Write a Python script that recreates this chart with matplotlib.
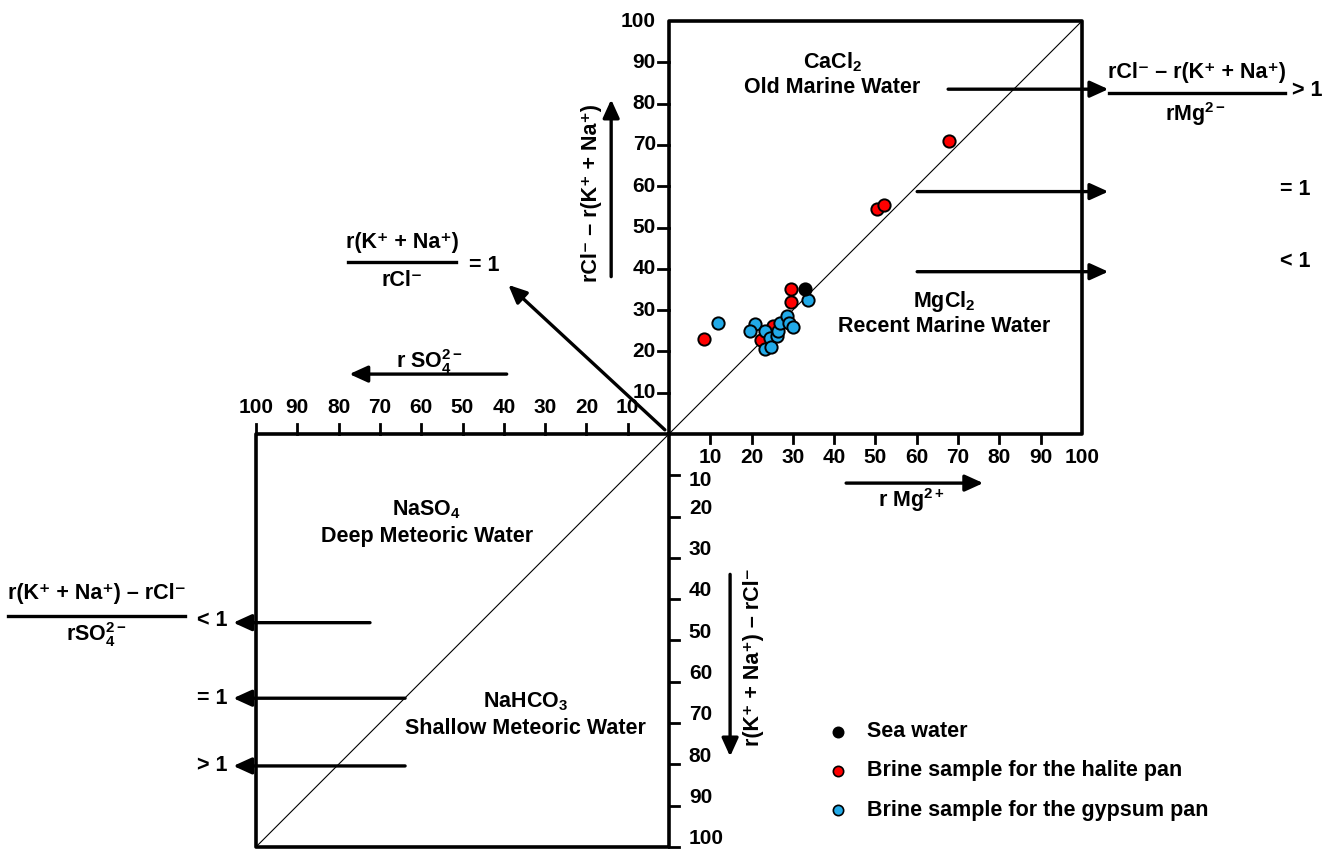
import matplotlib
matplotlib.use("Agg")
import matplotlib.pyplot as plt

plt.rcParams['font.family'] = ['Liberation Sans', 'DejaVu Sans']
plt.rcParams['font.weight'] = 'bold'
plt.rcParams['mathtext.fontset'] = 'custom'
plt.rcParams['mathtext.rm'] = 'Liberation Sans:bold'
plt.rcParams['mathtext.bf'] = 'Liberation Sans:bold'
plt.rcParams['mathtext.it'] = 'Liberation Sans:bold'
plt.rcParams['mathtext.default'] = 'bf'

# data (x = r Mg2+, y = rCl- - r(K+ + Na+))
sea_x = [32.9]
sea_y = [35.1]

halite_x = [67.9, 50.3, 52.0, 29.5, 29.5, 8.5, 22.3, 25.3]
halite_y = [70.9, 54.6, 55.5, 35.1, 32.0, 23.0, 22.8, 26.2]

gypsum_x = [11.8, 20.8, 19.7, 23.3, 24.5, 23.2, 24.6, 26.2, 26.3, 27.0, 28.7, 29.0, 30.1, 33.7]
gypsum_y = [26.9, 26.7, 24.9, 24.9, 23.2, 20.5, 21.1, 23.7, 24.9, 26.9, 28.6, 26.8, 26.0, 32.5]

ticks = [10, 20, 30, 40, 50, 60, 70, 80, 90, 100]
tick_labels = [str(t) for t in ticks]

legend_labels = ["Sea water", "Brine sample for the halite pan", "Brine sample for the gypsum pan"]
legend_colors = ["black", "#ff0000", "#22aae8"]

fig = plt.figure(figsize=(13.33, 8.51), dpi=100)
ax = fig.add_axes([0, 0, 1, 1])
ax.set_xlim(-162, 160.8)
ax.set_ylim(-101, 105.1)
ax.axis('off')

blw = 2.6
# upper-right box
ax.plot([0, 100, 100, 0, 0], [0, 0, 100, 100, 0], color='black', lw=blw, solid_capstyle='projecting')
# lower-left box
ax.plot([0, -100, -100, 0, 0], [0, 0, -100, -100, 0], color='black', lw=blw, solid_capstyle='projecting')
# 1:1 diagonal
ax.plot([-100, 100], [-100, 100], color='black', lw=0.8)

tfs = 15
tlw = 2.0
for t, lab in zip(ticks, tick_labels):
    # upper box, left axis
    if t < 100:
        ax.plot([-2.7, 0], [t, t], color='black', lw=tlw)
    ax.text(-3.2, t, lab, ha='right', va='center', fontsize=tfs)
    # upper box, bottom axis
    if t < 100:
        ax.plot([t, t], [0, -2.2], color='black', lw=tlw)
    ax.text(t, -5.6, lab, ha='center', va='center', fontsize=tfs)
    # lower box, top axis
    ax.plot([-t, -t], [0, 2.3], color='black', lw=tlw)
    ax.text(-t, 6.3, lab, ha='center', va='center', fontsize=tfs)
    # lower box, right axis
    ax.plot([0, 2.5], [-t, -t], color='black', lw=tlw)
    dy = -1.2 if t == 10 else 2.0
    ax.text(4.8, -t + dy, lab, ha='left', va='center', fontsize=tfs)

# samples
ax.scatter(halite_x, halite_y, s=78, c='#ff0000', edgecolors='black', linewidths=1.4, zorder=3)
ax.scatter(gypsum_x, gypsum_y, s=78, c='#22aae8', edgecolors='black', linewidths=1.4, zorder=4)
ax.scatter(sea_x, sea_y, s=78, c='black', edgecolors='black', linewidths=1.4, zorder=4)


def arrow(x0, y0, x1, y1):
    ax.annotate('', xy=(x1, y1), xytext=(x0, y0),
                arrowprops=dict(arrowstyle='-|>,head_length=0.55,head_width=0.25',
                                lw=2.4, color='black', shrinkA=0, shrinkB=0,
                                mutation_scale=20))


fs = 15.5
cl_minus_kna = 'rCl⁻ – r(K⁺ + Na⁺)'
kna_minus_cl = 'r(K⁺ + Na⁺) – rCl⁻'

# region names
ax.text(39.6, 90.1, r'CaCl$_2$', ha='center', va='center', fontsize=fs)
ax.text(39.6, 83.9, 'Old Marine Water', ha='center', va='center', fontsize=fs)
ax.text(66.7, 32.0, r'MgCl$_2$', ha='center', va='center', fontsize=fs)
ax.text(66.7, 26.0, 'Recent Marine Water', ha='center', va='center', fontsize=fs)
ax.text(-58.6, -18.4, r'NaSO$_4$', ha='center', va='center', fontsize=fs)
ax.text(-58.6, -24.9, 'Deep Meteoric Water', ha='center', va='center', fontsize=fs)
ax.text(-34.7, -64.8, r'NaHCO$_3$', ha='center', va='center', fontsize=fs)
ax.text(-34.7, -71.3, 'Shallow Meteoric Water', ha='center', va='center', fontsize=fs)

# axis names with arrows
ax.text(-18.7, 58.3, cl_minus_kna, rotation=90, ha='center', va='center', fontsize=fs)
arrow(-14.0, 38.1, -14.0, 81.0)
ax.text(20.4, -53.9, kna_minus_cl, rotation=90, ha='center', va='center', fontsize=fs)
arrow(14.8, -34.0, 14.8, -78.1)
ax.text(58.8, -16.0, r'r Mg$^{2+}$', ha='center', va='center', fontsize=fs)
arrow(42.9, -11.9, 76.1, -11.9)
ax.text(-57.9, 17.5, r'r SO$_4^{2-}$', ha='center', va='center', fontsize=fs)
arrow(-39.3, 14.5, -77.4, 14.5)
arrow(-1.0, 1.0, -38.9, 36.1)

# right-hand ratio
ax.text(127.8, 87.6, cl_minus_kna, ha='center', va='center', fontsize=fs)
ax.plot([106.5, 149.1], [82.5, 82.5], color='black', lw=2.4)
ax.text(127.4, 77.4, r'rMg$^{2-}$', ha='center', va='center', fontsize=fs)
ax.text(154.6, 83.1, '> 1', ha='center', va='center', fontsize=fs)
ax.text(151.6, 59.1, '= 1', ha='center', va='center', fontsize=fs)
ax.text(151.6, 41.7, '< 1', ha='center', va='center', fontsize=fs)
arrow(67.6, 83.5, 106.4, 83.5)
arrow(60.1, 58.7, 106.4, 58.7)
arrow(60.1, 39.3, 106.4, 39.3)

# upper-left ratio
ax.text(-64.5, 46.3, 'r(K⁺ + Na⁺)', ha='center', va='center', fontsize=fs)
ax.plot([-77.7, -51.5], [41.6, 41.6], color='black', lw=2.4)
ax.text(-64.7, 37.1, 'rCl⁻', ha='center', va='center', fontsize=fs)
ax.text(-44.7, 40.8, '= 1', ha='center', va='center', fontsize=fs)

# lower-left ratio
ax.text(-138.6, -38.6, kna_minus_cl, ha='center', va='center', fontsize=fs)
ax.plot([-160.0, -117.2], [-44.1, -44.1], color='black', lw=2.4)
ax.text(-138.6, -48.5, r'rSO$_4^{2-}$', ha='center', va='center', fontsize=fs)
ax.text(-110.7, -45.2, '< 1', ha='center', va='center', fontsize=fs)
ax.text(-110.7, -64.0, '= 1', ha='center', va='center', fontsize=fs)
ax.text(-110.7, -80.3, '> 1', ha='center', va='center', fontsize=fs)
arrow(-72.4, -45.7, -105.5, -45.7)
arrow(-63.9, -64.0, -105.5, -64.0)
arrow(-63.9, -80.4, -105.5, -80.4)

# legend
for i, (lab, col) in enumerate(zip(legend_labels, legend_colors)):
    yy = -72.1 - 9.5 * i
    ax.scatter([41.0], [yy], s=55, c=col, edgecolors='black', linewidths=1.2, zorder=4)
    ax.text(47.9, yy, lab, ha='left', va='center', fontsize=fs)

fig.savefig('out.png', dpi=100)
